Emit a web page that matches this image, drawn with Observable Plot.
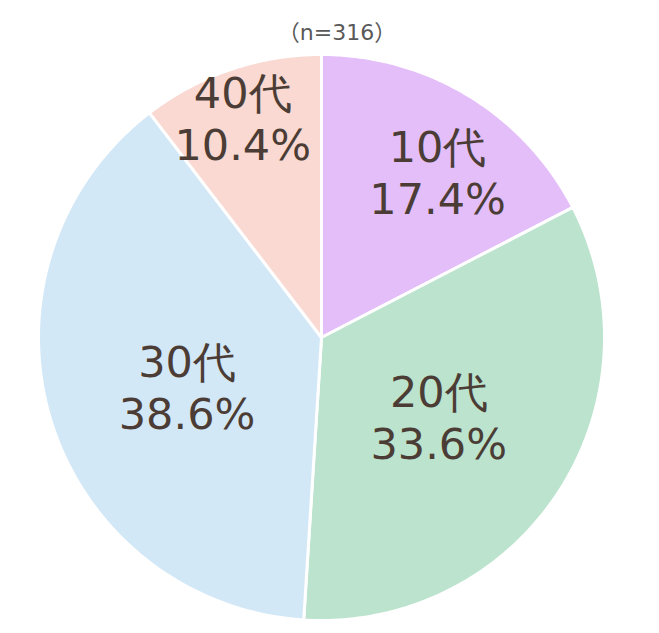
<!DOCTYPE html>
<html><head><meta charset="utf-8">
<script src="https://cdn.jsdelivr.net/npm/d3@7"></script>
<script src="https://cdn.jsdelivr.net/npm/@observablehq/plot@0.6"></script>
<style>body{margin:0;background:#fff;}</style>
</head><body><div id="chart"></div>
<script>
const categories = ["10代", "20代", "30代", "40代"];
const shares = [17.4, 33.6, 38.6, 10.4];
const colors = ["#e3bef9", "#bbe3cd", "#d3e8f7", "#f9d9d2"];
const sampleLabel = "（n=316）";

const W = 659, H = 633, cx = 321, cy = 337, R = 283;
// label placement: radius fraction and angular nudge (degrees)
const labelR = [0.715, 0.50, 0.505, 0.825];
const labelNudge = [3.7, 0.9, -2.9, -1.0];

const arcs = d3.pie().sort(null).value(d => d)(shares);
const poly = [];
arcs.forEach((a, i) => {
  const n = 120;
  poly.push({k: categories[i], x: 0, y: 0});
  for (let j = 0; j <= n; j++) {
    const t = a.startAngle + (a.endAngle - a.startAngle) * j / n;
    poly.push({k: categories[i], x: R * Math.sin(t), y: R * Math.cos(t)});
  }
  poly.push({k: categories[i], x: 0, y: 0});
});
const labels = arcs.map((a, i) => {
  const t = (a.startAngle + a.endAngle) / 2 + labelNudge[i] * Math.PI / 180;
  return {k: categories[i], text: `${categories[i]}\n${shares[i].toFixed(1)}%`,
          x: R * labelR[i] * Math.sin(t), y: R * labelR[i] * Math.cos(t)};
});

const chart = Plot.plot({
  width: W, height: H, margin: 0,
  x: {domain: [-cx, W - cx], range: [0, W], axis: null},
  y: {domain: [-(H - cy), cy], range: [H, 0], axis: null},
  color: {domain: categories, range: colors},
  marks: [
    Plot.line(poly, {x: "x", y: "y", z: "k", fill: "k", stroke: "white", strokeWidth: 3, strokeLinejoin: "round", curve: "linear"}),
    Plot.text(labels, {x: "x", y: "y", text: "text", fontFamily: "DejaVu Sans, Verdana, sans-serif", fontSize: 43, lineHeight: 1.21, fill: "#4b3d35"}),
    Plot.text([sampleLabel], {frameAnchor: "top", lineAnchor: "middle", dx: 7, dy: 32, text: d => d, fontFamily: "DejaVu Sans, 'Noto Sans CJK JP', sans-serif", fontSize: 22, fill: "#595959"})
  ]
});
document.getElementById("chart").appendChild(chart);
</script>
</body></html>
